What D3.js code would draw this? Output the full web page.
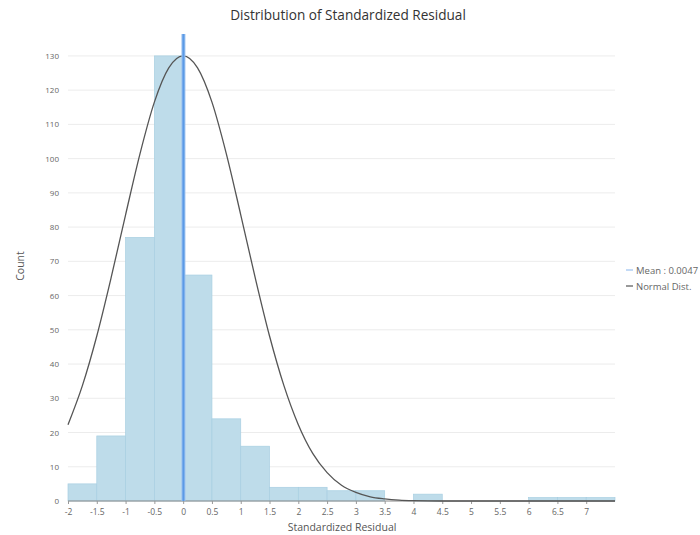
<!DOCTYPE html>
<html>
<head>
<meta charset="utf-8">
<script src="https://cdn.jsdelivr.net/npm/d3@7"></script>
<style>
  body { margin: 0; background: #fff; }
  svg text { font-family: "Open Sans", "DejaVu Sans", sans-serif; }
</style>
</head>
<body>
<div id="chart"></div>
<script>
// histogram bins (lower edge, width 0.5) and counts
var binStarts = [-2, -1.5, -1, -0.5, 0, 0.5, 1, 1.5, 2, 2.5, 3, 3.5, 4, 4.5, 5, 5.5, 6, 6.5, 7];
var binCounts = [5, 19, 77, 130, 66, 24, 16, 4, 4, 3, 3, 0, 2, 0, 0, 0, 1, 1, 1];
var binWidth = 0.5;

// normal curve
var curveX = [-2, -1.75, -1.5, -1.25, -1, -0.75, -0.5, -0.25, 0, 0.25, 0.5, 0.75, 1, 1.25, 1.5, 1.75, 2, 2.25, 2.5, 2.75, 3, 3.25, 3.5, 3.75, 4, 4.5, 5, 6, 7, 7.5];
var curveY = [22.3, 33.7, 48.2, 65.3, 83.6, 101.4, 116.5, 126.5, 130, 126.5, 116.5, 101.4, 83.6, 65.3, 48.2, 33.7, 22.3, 13.9, 8.3, 4.6, 2.5, 1.2, 0.6, 0.25, 0.1, 0, 0, 0, 0, 0];

var meanValue = 0.0047;
var xTicks = [-2, -1.5, -1, -0.5, 0, 0.5, 1, 1.5, 2, 2.5, 3, 3.5, 4, 4.5, 5, 5.5, 6, 6.5, 7];
var yTicks = [0, 10, 20, 30, 40, 50, 60, 70, 80, 90, 100, 110, 120, 130];
var legendLabels = ["Mean : 0.0047", "Normal Dist."];

(function(){
var W = 700, H = 535;
var pLeft = 68, pRight = 615, pTop = 34, pBottom = 501;

var svg = d3.select("#chart").append("svg").attr("width", W).attr("height", H);

var x = d3.scaleLinear().domain([-2, 7.5]).range([pLeft, pRight]);
var y = d3.scaleLinear().domain([0, 136.4]).range([pBottom, pTop]);

// grid
svg.append("g").selectAll("line")
  .data(yTicks.slice(1))
  .enter().append("line")
  .attr("x1", pLeft).attr("x2", pRight)
  .attr("y1", function(d){ return y(d); }).attr("y2", function(d){ return y(d); })
  .attr("stroke", "#ececec").attr("stroke-width", 1);

// bars
svg.append("g").selectAll("rect")
  .data(binStarts.map(function(s, i){ return {s: s, c: binCounts[i]}; }).filter(function(d){ return d.c > 0; }))
  .enter().append("rect")
  .attr("x", function(d){ return x(d.s); })
  .attr("width", function(d){ return x(d.s + binWidth) - x(d.s); })
  .attr("y", function(d){ return y(d.c); })
  .attr("height", function(d){ return y(0) - y(d.c); })
  .attr("fill", "#bedcea")
  .attr("stroke", "#a8cfe2").attr("stroke-width", 0.7);

// x axis
var xAxis = d3.axisBottom(x).tickValues(xTicks).tickSize(3).tickPadding(5)
  .tickFormat(function(d){ return d; });
var gx = svg.append("g").attr("transform", "translate(0," + pBottom + ")").call(xAxis);
gx.select(".domain").attr("stroke", "#888").attr("d", "M" + pLeft + ",0H" + pRight);
gx.selectAll(".tick line").attr("stroke", "#999");
gx.selectAll("text").attr("fill", "#666").attr("font-size", "8.5px");

// y axis
var yAxis = d3.axisLeft(y).tickValues(yTicks).tickSize(0).tickPadding(9);
var gy = svg.append("g").attr("transform", "translate(" + pLeft + ",0)").call(yAxis);
gy.select(".domain").remove();
gy.selectAll("text").attr("fill", "#666").attr("font-size", "8px");

// normal curve
var line = d3.line()
  .x(function(d){ return x(d[0]); })
  .y(function(d){ return y(d[1]); })
  .curve(d3.curveMonotoneX);
svg.append("path")
  .datum(curveX.map(function(v, i){ return [v, curveY[i]]; }))
  .attr("d", line)
  .attr("fill", "none").attr("stroke", "#555").attr("stroke-width", 1.3);

// mean line
svg.append("line")
  .attr("x1", x(meanValue)).attr("x2", x(meanValue))
  .attr("y1", pTop).attr("y2", pBottom)
  .attr("stroke", "#9cc2f0").attr("stroke-width", 4);
svg.append("line")
  .attr("x1", x(meanValue)).attr("x2", x(meanValue))
  .attr("y1", pTop).attr("y2", pBottom)
  .attr("stroke", "#5b9ae6").attr("stroke-width", 2);

// title
svg.append("text").attr("x", 348).attr("y", 20).attr("text-anchor", "middle")
  .attr("font-size", "13.6px").attr("fill", "#333")
  .text("Distribution of Standardized Residual");

// axis titles
svg.append("text").attr("x", 342).attr("y", 531).attr("text-anchor", "middle")
  .attr("font-size", "10.5px").attr("fill", "#555").text("Standardized Residual");
svg.append("text").attr("transform", "translate(24,266) rotate(-90)").attr("text-anchor", "middle")
  .attr("font-size", "10.5px").attr("fill", "#555").text("Count");

// legend
var legColors = ["#9cc2f0", "#555"];
var leg = svg.append("g").selectAll("g")
  .data(legendLabels)
  .enter().append("g")
  .attr("transform", function(d, i){ return "translate(626," + (270 + i * 16) + ")"; });
leg.append("line").attr("x1", 0).attr("x2", 7).attr("y1", 0).attr("y2", 0)
  .attr("stroke", function(d, i){ return legColors[i]; }).attr("stroke-width", 1.2);
leg.append("text").attr("x", 10).attr("y", 3.5).attr("font-size", "9.5px").attr("fill", "#666")
  .text(function(d){ return d; });
})();
</script>
</body>
</html>
